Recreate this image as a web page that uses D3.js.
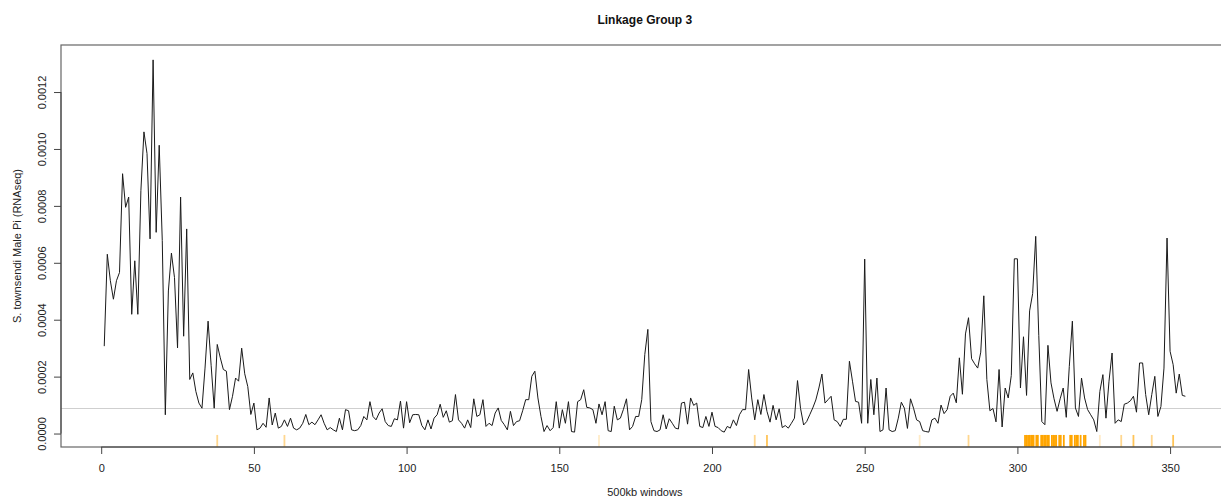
<!DOCTYPE html>
<html>
<head>
    <title>Linkage Group 3</title>
    <script src="https://d3js.org/d3.v7.min.js"></script>
    <style>
        body {
            margin: 0;
            background-color: #fff;
            font-family: "Liberation Sans", Arial, sans-serif;
        }
        .axis text {
            fill: #222;
            font-size: 11px;
            font-family: "Liberation Sans", Arial, sans-serif;
        }
        .axis path,
        .axis line {
            stroke: #444;
        }
    </style>
</head>
<body>
    <svg id="chart"></svg>
    <script>
        // Pi per 500kb window, in units of 1e-4 (window 1 .. 355)
        const piE4 = [
            3.07, 6.3, 5.37, 4.72, 5.37, 5.66, 9.13, 7.95, 8.31, 4.19,
            6.07, 4.19, 8.54, 10.6, 9.84, 6.84, 13.13, 7.07, 10.13, 6.78,
            0.66, 5.01, 6.34, 5.48, 3.01, 8.31, 3.42, 7.19, 1.9, 2.13,
            1.48, 1.07, 0.89, 2.3, 3.95, 2.4, 0.89, 3.13, 2.66, 2.25,
            2.19, 0.84, 1.31, 1.95, 1.84, 3.0, 2.1, 1.65, 0.67, 1.07,
            0.13, 0.19, 0.36, 0.22, 1.25, 0.3, 0.72, 0.19, 0.25, 0.48,
            0.25, 0.54, 0.19, 0.13, 0.19, 0.36, 0.67, 0.31, 0.4, 0.31,
            0.48, 0.66, 0.36, 0.13, 0.21, 0.13, 0.07, 0.54, 0.13, 0.84,
            0.8, 0.13, 0.1, 0.13, 0.28, 0.6, 0.48, 1.12, 0.6, 0.48,
            0.72, 0.87, 0.42, 0.28, 0.25, 0.52, 0.48, 1.14, 0.19, 1.12,
            0.38, 0.66, 0.67, 0.66, 0.28, 0.13, 0.48, 0.16, 0.54, 0.66,
            1.03, 0.57, 0.8, 0.4, 0.45, 1.37, 0.48, 0.36, 0.19, 0.48,
            0.21, 1.22, 0.6, 0.66, 1.19, 0.25, 0.36, 0.28, 0.72, 0.9,
            0.46, 0.31, 0.13, 0.78, 0.28, 0.42, 0.45, 0.8, 1.19, 1.19,
            2.01, 2.19, 1.25, 0.6, 0.07, 0.28, 0.1, 0.21, 1.12, 0.19,
            0.84, 0.36, 1.12, 0.07, 0.05, 1.12, 1.19, 1.54, 0.92, 0.9,
            0.84, 0.36, 1.04, 0.66, 1.12, 0.1, 0.07, 0.96, 0.48, 0.54,
            0.85, 1.22, 0.13, 0.25, 0.6, 0.6, 1.19, 2.78, 3.66, 0.42,
            0.1, 0.07, 0.13, 0.66, 0.16, 0.52, 0.36, 0.19, 0.16, 1.07,
            1.1, 0.33, 1.25, 0.99, 1.07, 0.25, 0.21, 0.6, 0.25, 0.75,
            0.25, 0.21, 0.1, 0.05, 0.25, 0.19, 0.48, 0.28, 0.66, 0.84,
            0.84, 2.25, 1.25, 0.48, 1.19, 0.67, 1.37, 0.78, 0.4, 0.99,
            0.48, 0.87, 0.21, 0.28, 0.19, 0.36, 0.54, 1.86, 0.88, 0.3,
            0.42, 0.66, 0.9, 1.18, 1.6, 2.09, 1.07, 1.19, 1.31, 0.48,
            0.42, 0.25, 0.5, 0.5, 2.54, 1.84, 1.13, 1.1, 0.36, 6.13,
            0.36, 1.9, 0.66, 1.95, 0.07, 0.13, 1.6, 0.13, 0.07, 0.1,
            0.54, 1.1, 0.89, 0.18, 1.22, 0.89, 0.48, 0.42, 0.1, 0.07,
            0.05, 0.48, 0.54, 0.36, 1.0, 0.7, 0.84, 1.31, 1.42, 1.08,
            2.66, 1.38, 3.5, 4.07, 2.63, 2.45, 2.3, 2.86, 4.84, 1.9,
            0.8, 0.88, 0.41, 2.25, 0.23, 1.6, 1.25, 2.04, 6.14, 6.14,
            1.6, 3.4, 1.34, 4.31, 4.92, 6.93, 3.45, 0.42, 0.31, 3.1,
            1.78, 1.22, 0.78, 1.22, 1.6, 0.57, 2.36, 3.95, 0.9, 0.6,
            1.95, 1.25, 0.84, 0.66, 0.48, 0.07, 1.48, 2.07, 0.54, 1.84,
            2.83, 0.36, 0.48, 0.42, 1.03, 1.07, 1.15, 1.31, 0.75, 2.48,
            2.48, 1.37, 0.66, 1.37, 2.01, 0.6, 0.95, 2.3, 6.87, 2.89,
            2.42, 1.42, 2.09, 1.34, 1.31
        ];

        // horizontal reference line (1e-4 units)
        const refPiE4 = 0.88;

        // rug: window positions of marked loci and how many fall there
        const rugPos = [38, 60, 163, 214, 218, 268, 284,
            302.5, 303, 303.5, 304, 304.5, 305, 305.3, 306.2, 306.7, 307.8,
            308.3, 308.8, 309.3, 309.8, 310.3, 311.3, 311.8, 312.3, 312.7,
            313.7, 314.2, 315.2, 317.3, 317.8, 318.8, 319.3, 319.8, 320.7,
            321.8, 322.3,
            327, 334, 338, 344, 351];
        const rugCounts = [2, 2, 1, 2, 3, 1, 2,
            5, 5, 5, 5, 5, 5, 5, 5, 5, 5,
            5, 5, 5, 5, 5, 5, 5, 5, 5,
            5, 5, 5, 5, 5, 5, 5, 5, 5,
            5, 5,
            1, 2, 3, 2, 3];

        const xTicks = [0, 50, 100, 150, 200, 250, 300, 350];
        const yTicks = [0, 2, 4, 6, 8, 10, 12];
        const yTickLabels = ['0.0000', '0.0002', '0.0004', '0.0006', '0.0008', '0.0010', '0.0012'];

        const title = 'Linkage Group 3';
        const xLabel = '500kb windows';
        const yLabel = 'S. townsendi Male Pi (RNAseq)';

        function drawChart() {
            const W = 1221, H = 500;
            const plot = { left: 61, top: 45, bottom: 447 };

            const svg = d3.select('#chart')
                .attr('width', W)
                .attr('height', H);

            const data = piE4.map((v, i) => ({ w: i + 1, v: v }));

            // R style 4% padding on both axes
            const xExt = d3.extent(data, d => d.w);
            const xPad = (xExt[1] - xExt[0]) * 0.04;
            const yExt = d3.extent(data, d => d.v);
            const yPad = (yExt[1] - yExt[0]) * 0.04;
            const xPerUnit = 3.054;
            const plotRight = plot.left + (xExt[1] - xExt[0] + 2 * xPad) * xPerUnit;

            const x = d3.scaleLinear()
                .domain([xExt[0] - xPad, xExt[1] + xPad])
                .range([plot.left, plotRight]);

            const y = d3.scaleLinear()
                .domain([yExt[0] - yPad, yExt[1] + yPad])
                .range([plot.bottom, plot.top]);

            const clip = svg.append('defs').append('clipPath').attr('id', 'plotClip')
                .append('rect')
                .attr('x', plot.left).attr('y', plot.top)
                .attr('width', plotRight - plot.left).attr('height', plot.bottom - plot.top);

            // reference line
            svg.append('line')
                .attr('x1', plot.left).attr('x2', plotRight)
                .attr('y1', y(refPiE4)).attr('y2', y(refPiE4))
                .attr('stroke', '#cfcfcf')
                .attr('stroke-width', 1);

            // rug marks
            const rugLen = (plot.bottom - plot.top) * 0.03;
            svg.append('g')
                .selectAll('line')
                .data(rugPos)
                .enter()
                .append('line')
                .attr('x1', d => x(d)).attr('x2', d => x(d))
                .attr('y1', plot.bottom).attr('y2', plot.bottom - rugLen)
                .attr('stroke', 'orange')
                .attr('stroke-width', 1.8)
                .attr('stroke-opacity', (d, i) => Math.min(1, rugCounts[i] * 0.22));

            // Pi line
            const line = d3.line()
                .x(d => x(d.w))
                .y(d => y(d.v));

            svg.append('path')
                .datum(data)
                .attr('clip-path', 'url(#plotClip)')
                .attr('fill', 'none')
                .attr('stroke', '#1a1a1a')
                .attr('stroke-width', 1)
                .attr('stroke-linejoin', 'miter')
                .attr('d', line);

            // box
            svg.append('rect')
                .attr('x', plot.left).attr('y', plot.top)
                .attr('width', plotRight - plot.left)
                .attr('height', plot.bottom - plot.top)
                .attr('fill', 'none')
                .attr('stroke', '#666')
                .attr('stroke-width', 1.2);

            // axes
            const xAxis = svg.append('g')
                .attr('class', 'axis')
                .attr('transform', `translate(0,${plot.bottom})`)
                .call(d3.axisBottom(x).tickValues(xTicks).tickSize(7).tickPadding(10).tickSizeOuter(0));
            xAxis.select('.domain')
                .attr('d', `M${x(xTicks[0])},0H${x(xTicks[xTicks.length - 1])}`);

            const yAxis = svg.append('g')
                .attr('class', 'axis')
                .attr('transform', `translate(${plot.left},0)`)
                .call(d3.axisLeft(y).tickValues(yTicks)
                    .tickFormat((d, i) => yTickLabels[i])
                    .tickSize(7).tickSizeOuter(0));
            yAxis.select('.domain')
                .attr('d', `M0,${y(yTicks[0])}V${y(yTicks[yTicks.length - 1])}`);
            yAxis.selectAll('.tick text')
                .attr('x', 0).attr('y', 0)
                .attr('dy', null)
                .attr('text-anchor', 'middle')
                .attr('dominant-baseline', 'central')
                .attr('transform', 'translate(-19,0) rotate(-90)');

            // titles
            const cx = (plot.left + plotRight) / 2;
            svg.append('text')
                .attr('x', cx).attr('y', 24)
                .attr('text-anchor', 'middle')
                .attr('font-size', '12px')
                .attr('font-weight', 'bold')
                .attr('fill', '#111')
                .text(title);

            svg.append('text')
                .attr('x', cx).attr('y', 496)
                .attr('text-anchor', 'middle')
                .attr('font-size', '11px')
                .attr('fill', '#222')
                .text(xLabel);

            svg.append('text')
                .attr('transform', `translate(21,${(plot.top + plot.bottom) / 2}) rotate(-90)`)
                .attr('text-anchor', 'middle')
                .attr('font-size', '11px')
                .attr('fill', '#222')
                .text(yLabel);
        }

        drawChart();
    </script>
</body>
</html>
